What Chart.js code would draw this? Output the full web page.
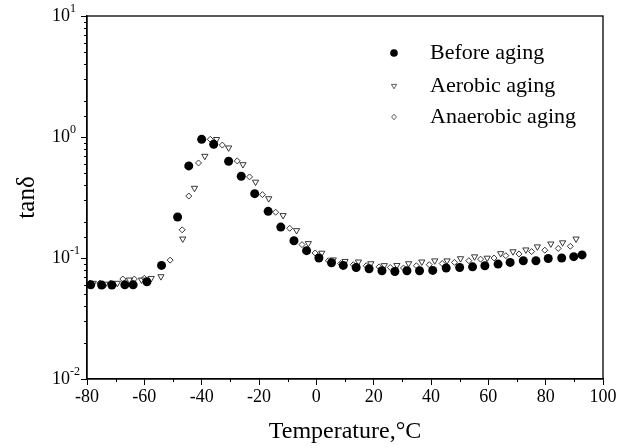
<!DOCTYPE html>
<html>
<head>
<meta charset="utf-8">
<script src="https://cdn.jsdelivr.net/npm/chart.js@4/dist/chart.umd.min.js"></script>
<style>
  body { margin: 0; background: #fff; }
  canvas { display: block; }
</style>
</head>
<body>
<canvas id="tan-chart" width="629" height="448"></canvas>
<script>
// tan(delta) vs temperature
const tempBefore = [-78.7, -74.9, -71.3, -66.8, -63.9, -59.1, -54.0, -48.4, -44.5, -40.0,
    -35.8, -30.6, -26.2, -21.5, -16.8, -12.4, -7.8, -3.4, 0.9, 5.3,
    9.4, 13.9, 18.4, 22.9, 27.4, 31.6, 36.0, 40.6, 45.3, 50.0,
    54.5, 58.8, 63.4, 67.6, 72.2, 76.6, 80.9, 85.6, 89.8, 92.7];
const tanBefore = [0.060, 0.0597, 0.0597, 0.060, 0.060, 0.0635, 0.0868, 0.218, 0.577, 0.957,
    0.87, 0.63, 0.474, 0.34, 0.243, 0.18, 0.139, 0.115, 0.100, 0.0914,
    0.0868, 0.0835, 0.0815, 0.0784, 0.0774, 0.0784, 0.0784, 0.079, 0.0826, 0.0835,
    0.0845, 0.0863, 0.089, 0.092, 0.095, 0.095, 0.099, 0.100, 0.1026, 0.106];

const tempAerobic = [-77.8, -73.6, -69.4, -65.2, -61.0, -57.6, -54.2, -46.6, -42.5, -38.9,
    -34.8, -30.6, -25.6, -21.2, -16.6, -11.6, -6.9, -2.8, 1.9, 5.9,
    10.0, 14.7, 19.0, 23.7, 28.1, 32.2, 36.8, 41.3, 45.6, 50.3,
    55.2, 59.6, 64.3, 68.6, 73.1, 77.1, 81.8, 85.9, 90.6];
const tanAerobic = [0.062, 0.061, 0.062, 0.066, 0.066, 0.068, 0.0703, 0.144, 0.378, 0.695,
    0.957, 0.815, 0.593, 0.425, 0.31, 0.225, 0.169, 0.132, 0.110, 0.0968,
    0.094, 0.093, 0.090, 0.0868, 0.087, 0.090, 0.093, 0.095, 0.095, 0.099,
    0.1026, 0.100, 0.109, 0.113, 0.117, 0.124, 0.131, 0.134, 0.144];

const tempAnaerobic = [-79.0, -75.5, -71.8, -67.5, -63.5, -60.0, -51.0, -46.8, -44.5, -41.1,
    -37.0, -32.8, -27.6, -23.3, -18.8, -14.2, -9.3, -5.0, -0.4, 4.2,
    8.5, 12.9, 17.4, 21.9, 25.8, 30.4, 34.9, 39.4, 43.9, 48.2,
    53.2, 57.3, 62.0, 66.1, 70.7, 75.1, 79.7, 84.4, 88.6];
const tanAnaerobic = [0.062, 0.062, 0.062, 0.067, 0.067, 0.068, 0.096, 0.171, 0.325, 0.61,
    0.957, 0.858, 0.635, 0.468, 0.334, 0.239, 0.176, 0.129, 0.110, 0.095,
    0.090, 0.088, 0.0863, 0.0845, 0.0835, 0.0826, 0.0863, 0.088, 0.090, 0.092,
    0.095, 0.0978, 0.100, 0.1045, 0.108, 0.113, 0.116, 0.120, 0.125];

const seriesNames = ['Before aging', 'Aerobic aging', 'Anaerobic aging'];
const yDecades = [0.01, 0.1, 1, 10];
const yExponents = ['-2', '-1', '0', '1'];

const FONT = "'Liberation Serif', 'Times New Roman', serif";

function toPoints(xs, ys) {
    return xs.map((x, i) => ({ x: x, y: ys[i] }));
}

function isDecade(v) {
    const l = Math.log10(v);
    return Math.abs(l - Math.round(l)) < 1e-6;
}

// frame, minor ticks, y tick labels with superscripts, legend
const decorations = {
    id: 'decorations',
    afterDraw(chart) {
        const ctx = chart.ctx;
        const area = chart.chartArea;
        const xScale = chart.scales.x;
        const yScale = chart.scales.y;
        ctx.save();

        ctx.strokeStyle = '#000';
        ctx.lineWidth = 1.3;
        ctx.strokeRect(area.left, area.top, area.right - area.left, area.bottom - area.top);

        // short minor ticks
        ctx.lineWidth = 1;
        ctx.beginPath();
        xScale.ticks.forEach(t => {
            if (t.value % 20 !== 0) {
                const px = Math.round(xScale.getPixelForValue(t.value)) + 0.5;
                ctx.moveTo(px, area.bottom);
                ctx.lineTo(px, area.bottom + 3);
            }
        });
        yScale.ticks.forEach(t => {
            if (!isDecade(t.value)) {
                const py = Math.round(yScale.getPixelForValue(t.value)) + 0.5;
                ctx.moveTo(area.left, py);
                ctx.lineTo(area.left - 3, py);
            }
        });
        ctx.stroke();

        ctx.fillStyle = '#000';
        ctx.textAlign = 'left';
        yDecades.forEach((v, i) => {
            const py = yScale.getPixelForValue(v);
            ctx.font = `18px ${FONT}`;
            ctx.textBaseline = 'middle';
            ctx.fillText('10', 52, py);
            ctx.font = `12px ${FONT}`;
            ctx.fillText(yExponents[i], 70, py - 7);
        });

        // legend
        const rows = [53, 86, 117];
        ctx.font = `22px ${FONT}`;
        ctx.textBaseline = 'middle';
        seriesNames.forEach((name, i) => {
            const mx = 394, my = rows[i];
            ctx.beginPath();
            if (i === 0) {
                ctx.arc(mx, my, 3.8, 0, Math.PI * 2);
                ctx.fill();
            } else if (i === 1) {
                ctx.moveTo(mx - 2.6, my - 1.6);
                ctx.lineTo(mx + 2.6, my - 1.6);
                ctx.lineTo(mx, my + 2.8);
                ctx.closePath();
                ctx.lineWidth = 0.8;
                ctx.strokeStyle = '#333';
                ctx.stroke();
            } else {
                ctx.moveTo(mx, my - 2.8);
                ctx.lineTo(mx + 2.4, my);
                ctx.lineTo(mx, my + 2.8);
                ctx.lineTo(mx - 2.4, my);
                ctx.closePath();
                ctx.lineWidth = 0.8;
                ctx.strokeStyle = '#333';
                ctx.stroke();
            }
            ctx.fillText(name, 430, my);
        });
        ctx.restore();
    }
};

new Chart(document.getElementById('tan-chart'), {
    type: 'scatter',
    data: {
        datasets: [{
            label: seriesNames[0],
            data: toPoints(tempBefore, tanBefore),
            pointStyle: 'circle',
            pointRadius: 4.5,
            backgroundColor: '#000',
            borderColor: '#000',
            borderWidth: 0,
        }, {
            label: seriesNames[1],
            data: toPoints(tempAerobic, tanAerobic),
            pointStyle: 'triangle',
            pointRotation: 180,
            pointRadius: 3.6,
            backgroundColor: 'rgba(255,255,255,0)',
            borderColor: '#222',
            borderWidth: 0.9,
        }, {
            label: seriesNames[2],
            data: toPoints(tempAnaerobic, tanAnaerobic),
            pointStyle: 'rectRot',
            pointRadius: 3,
            backgroundColor: 'rgba(255,255,255,0)',
            borderColor: '#222',
            borderWidth: 0.9,
        }]
    },
    options: {
        responsive: false,
        animation: false,
        events: [],
        layout: { padding: { left: 0, right: 26, top: 16, bottom: 0 } },
        plugins: {
            legend: { display: false },
            tooltip: { enabled: false }
        },
        scales: {
            x: {
                type: 'linear',
                min: -80,
                max: 100,
                afterFit: (scale) => { scale.height = 69; },
                ticks: {
                    stepSize: 10,
                    autoSkip: false,
                    maxRotation: 0,
                    padding: 1,
                    color: '#000',
                    font: { family: FONT, size: 18 },
                    callback: (v) => (v % 20 === 0 ? String(v) : '')
                },
                grid: {
                    drawOnChartArea: false,
                    drawTicks: true,
                    tickLength: 6,
                    tickColor: (c) => (c.tick && c.tick.value % 20 === 0 ? '#000' : 'rgba(0,0,0,0)')
                },
                border: { color: '#000', width: 1.3 },
                title: {
                    display: true,
                    text: 'Temperature,°C',
                    color: '#000',
                    font: { family: FONT, size: 24 },
                    padding: { top: 0, bottom: 2 }
                }
            },
            y: {
                type: 'logarithmic',
                min: 0.01,
                max: 10,
                afterFit: (scale) => { scale.width = 87; },
                ticks: {
                    autoSkip: false,
                    color: '#000',
                    callback: () => ''
                },
                grid: {
                    drawOnChartArea: false,
                    drawTicks: true,
                    tickLength: 6,
                    tickColor: (c) => (c.tick && isDecade(c.tick.value) ? '#000' : 'rgba(0,0,0,0)')
                },
                border: { color: '#000', width: 1.3 },
                title: {
                    display: true,
                    text: 'tanδ',
                    color: '#000',
                    font: { family: FONT, size: 25 },
                    padding: { top: 12, bottom: 0 }
                }
            }
        }
    },
    plugins: [decorations]
});
</script>
</body>
</html>
